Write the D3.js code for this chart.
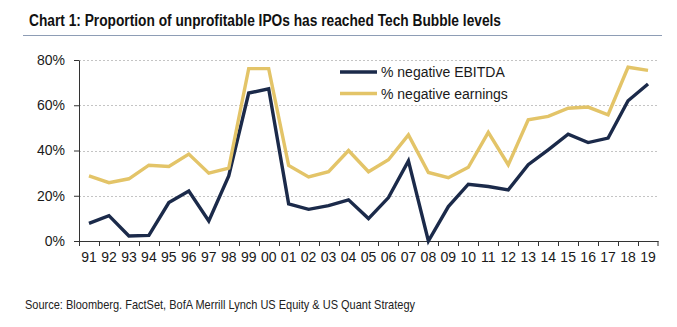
<!DOCTYPE html>
<html>
<head>
<meta charset="utf-8">
<script src="https://cdn.jsdelivr.net/npm/d3@7"></script>
<style>
  body { margin: 0; background: #fff; }
  svg { display: block; font-family: 'Liberation Sans', Arial, sans-serif; }
  .narrow { font-family: 'Liberation Sans Narrow', 'Arial Narrow', 'Liberation Sans', Arial, sans-serif; }
</style>
</head>
<body>
<div class="chart_container"></div>
<script>
// 資料
const years = ['91','92','93','94','95','96','97','98','99','00','01','02','03','04','05',
    '06','07','08','09','10','11','12','13','14','15','16','17','18','19']
// % negative EBITDA
const negEbitda = [7.8, 11.2, 2.2, 2.5, 17.0, 22.1, 8.9, 28.8, 65.4, 67.3, 16.4, 14.0, 15.6, 18.2, 9.9,
    19.2, 35.4, 0.0, 15.2, 25.1, 24.1, 22.6, 33.7, 40.3, 47.2, 43.5, 45.5, 62.0, 69.4]
// % negative earnings
const negEarnings = [28.8, 25.8, 27.5, 33.5, 32.9, 38.4, 30.0, 32.2, 76.2, 76.2, 33.4, 28.3, 30.6, 40.0, 30.6,
    35.9, 46.9, 30.3, 28.0, 32.6, 48.0, 33.7, 53.6, 55.1, 58.7, 59.2, 55.8, 76.8, 75.4]
const yTicks = [0, 20, 40, 60, 80]
const seriesNames = ['% negative EBITDA', '% negative earnings']
const seriesColors = ['#1b2a4a', '#e3c468']

const svg_width = 677
const svg_height = 327
const plot = { left: 79, right: 658, top: 60, bottom: 241 }

const svg = d3.select('.chart_container').append('svg')
    .attr('width', svg_width).attr('height', svg_height)

// 標題 + 底線
svg.append('text').attr('class', 'narrow')
    .attr('x', 29).attr('y', 26)
    .attr('textLength', 472).attr('lengthAdjust', 'spacingAndGlyphs')
    .style('font-size', '16px').style('font-weight', 'bold').style('fill', '#111')
    .text('Chart 1: Proportion of unprofitable IPOs has reached Tech Bubble levels')
svg.append('line')
    .attr('x1', 23).attr('x2', 662).attr('y1', 35.5).attr('y2', 35.5)
    .style('stroke', '#8e9db5').style('stroke-width', 1.2)

// scales
const xScale = d3.scaleBand().domain(years).range([plot.left, plot.right])
const yScale = d3.scaleLinear().domain([0, 80]).range([plot.bottom, plot.top])
const xMid = d => xScale(d) + xScale.bandwidth() / 2

// 格線
svg.append('g').selectAll('line').data(yTicks.filter(d => d > 0)).join('line')
    .attr('x1', plot.left).attr('x2', plot.right)
    .attr('y1', d => Math.round(yScale(d)) + 0.5).attr('y2', d => Math.round(yScale(d)) + 0.5)
    .style('stroke', '#c4c4c4').style('stroke-width', 1).style('stroke-dasharray', '2,2')

// y軸
const yAxis = d3.axisLeft(yScale).tickValues(yTicks).tickFormat(d => d + '%')
    .tickSizeInner(5).tickSizeOuter(0).tickPadding(9)
const yAxisDraw = svg.append('g')
    .attr('transform', `translate(${plot.left},0)`)
    .call(yAxis)
yAxisDraw.selectAll('path, line').style('stroke', '#333')
yAxisDraw.selectAll('text').style('font-size', '14px').style('fill', '#1a1a1a')
    .style('font-family', "'Liberation Sans', Arial, sans-serif")

// x軸 (刻度在類別之間)
const xAxis = d3.axisBottom(xScale).tickSize(0).tickPadding(11)
const xAxisDraw = svg.append('g')
    .attr('transform', `translate(0,${plot.bottom})`)
    .call(xAxis)
xAxisDraw.select('.domain').style('stroke', '#333')
xAxisDraw.selectAll('text').style('font-size', '14px').style('fill', '#1a1a1a')
    .style('font-family', "'Liberation Sans', Arial, sans-serif")
xAxisDraw.selectAll('.sep').data(years.concat(['end'])).join('line')
    .attr('class', 'sep')
    .attr('x1', d => d === 'end' ? plot.right : Math.round(xScale(d)) + 0.5)
    .attr('x2', d => d === 'end' ? plot.right : Math.round(xScale(d)) + 0.5)
    .attr('y1', 0).attr('y2', 5)
    .style('stroke', '#333')

// 折線
const line = d3.line()
    .x((d, i) => xMid(years[i]))
    .y(d => yScale(d))

const allSeries = [negEbitda, negEarnings]
svg.append('g').selectAll('path').data(allSeries).join('path')
    .attr('d', d => line(d))
    .style('fill', 'none')
    .style('stroke', (d, i) => seriesColors[i])
    .style('stroke-width', 3.4)
    .style('stroke-linejoin', 'miter')

// 圖例
const legend = svg.append('g').selectAll('g').data(seriesNames).join('g')
    .attr('transform', (d, i) => `translate(340,${72 + i * 21.5})`)
legend.append('line')
    .attr('x1', 0).attr('x2', 37)
    .style('stroke', (d, i) => seriesColors[i]).style('stroke-width', 3.4)
legend.append('text')
    .attr('x', 41).attr('dy', '0.36em')
    .style('font-size', '14px').style('fill', '#1a1a1a')
    .text(d => d)

// 資料來源
svg.append('text').attr('class', 'narrow')
    .attr('x', 25).attr('y', 309)
    .attr('textLength', 390).attr('lengthAdjust', 'spacingAndGlyphs')
    .style('font-size', '13px').style('fill', '#222')
    .text('Source: Bloomberg. FactSet, BofA Merrill Lynch US Equity & US Quant Strategy')
</script>
</body>
</html>
